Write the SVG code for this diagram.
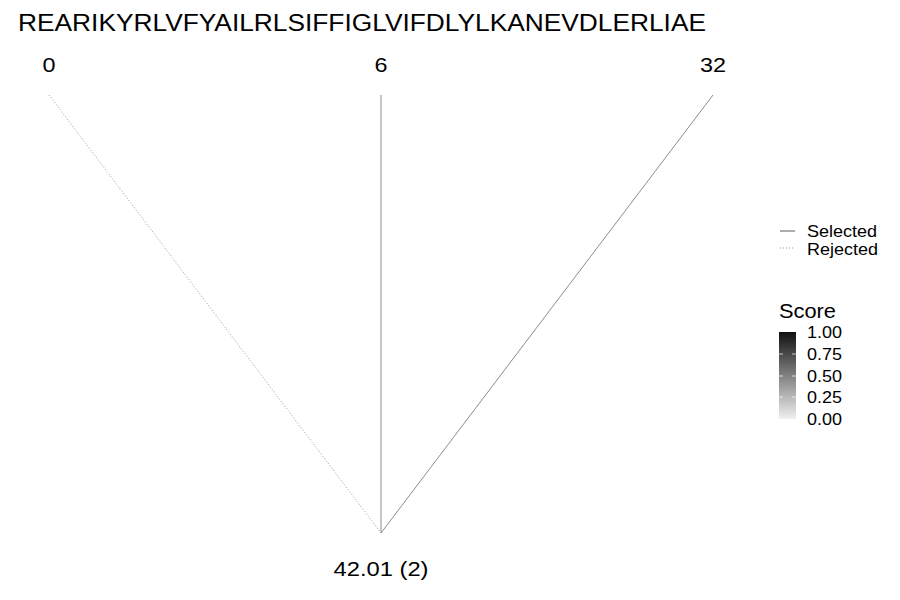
<svg xmlns="http://www.w3.org/2000/svg" width="900" height="600" viewBox="0 0 900 600">
<defs>
<style>
text{font-family:"Liberation Sans",Arial,sans-serif;fill:#000}
.lbl{font-size:20px;text-anchor:middle}
.leg{font-size:17px}
.sel{stroke:#8c8c8c;stroke-width:1;fill:none}
.rej{stroke:#999;stroke-width:1;stroke-dasharray:1 2;fill:none}
.tick{stroke:#fff;stroke-width:1;opacity:0.7}
</style>
<linearGradient id="g" x1="0" y1="0" x2="0" y2="1">
<stop offset="0" stop-color="#111"/>
<stop offset="1" stop-color="#f0f0f0"/>
</linearGradient>
</defs>
<rect width="900" height="600" fill="#fff"/>
<text x="18" y="31" font-size="23.5" textLength="688" lengthAdjust="spacingAndGlyphs">REARIKYRLVFYAILRLSIFFIGLVIFDLYLKANEVDLERLIAE</text>
<g id="connectors">
<line class="rej" x1="49" y1="95" x2="381" y2="533"/>
<line class="sel" x1="381" y1="95" x2="381" y2="533"/>
<line class="sel" x1="713" y1="95" x2="381" y2="533"/>
</g>
<g id="node-0"><text class="lbl" x="49" y="72" textLength="13" lengthAdjust="spacingAndGlyphs">0</text></g>
<g id="node-6"><text class="lbl" x="381" y="72" textLength="13" lengthAdjust="spacingAndGlyphs">6</text></g>
<g id="node-32"><text class="lbl" x="713" y="72" textLength="26" lengthAdjust="spacingAndGlyphs">32</text></g>
<g id="node-root"><text class="lbl" x="381" y="576" textLength="95" lengthAdjust="spacingAndGlyphs">42.01 (2)</text></g>
<g id="legend">
<line x1="780" y1="231" x2="795" y2="231" stroke="#777" stroke-width="1.2"/>
<line class="rej" x1="780" y1="248" x2="795" y2="248"/>
<text class="leg" x="807" y="237" textLength="70" lengthAdjust="spacingAndGlyphs">Selected</text>
<text class="leg" x="807" y="254.5" textLength="71" lengthAdjust="spacingAndGlyphs">Rejected</text>
<text x="779" y="318" font-size="20" textLength="57" lengthAdjust="spacingAndGlyphs">Score</text>
<rect x="779" y="332" width="17" height="87" fill="url(#g)"/>
<line class="tick" x1="779" y1="354" x2="783" y2="354"/><line class="tick" x1="792" y1="354" x2="796" y2="354"/>
<line class="tick" x1="779" y1="376" x2="783" y2="376"/><line class="tick" x1="792" y1="376" x2="796" y2="376"/>
<line class="tick" x1="779" y1="397" x2="783" y2="397"/><line class="tick" x1="792" y1="397" x2="796" y2="397"/>
<text class="leg" x="807" y="338" textLength="35" lengthAdjust="spacingAndGlyphs">1.00</text>
<text class="leg" x="807" y="360" textLength="35" lengthAdjust="spacingAndGlyphs">0.75</text>
<text class="leg" x="807" y="382" textLength="35" lengthAdjust="spacingAndGlyphs">0.50</text>
<text class="leg" x="807" y="403" textLength="35" lengthAdjust="spacingAndGlyphs">0.25</text>
<text class="leg" x="807" y="425" textLength="35" lengthAdjust="spacingAndGlyphs">0.00</text>
</g>
</svg>
